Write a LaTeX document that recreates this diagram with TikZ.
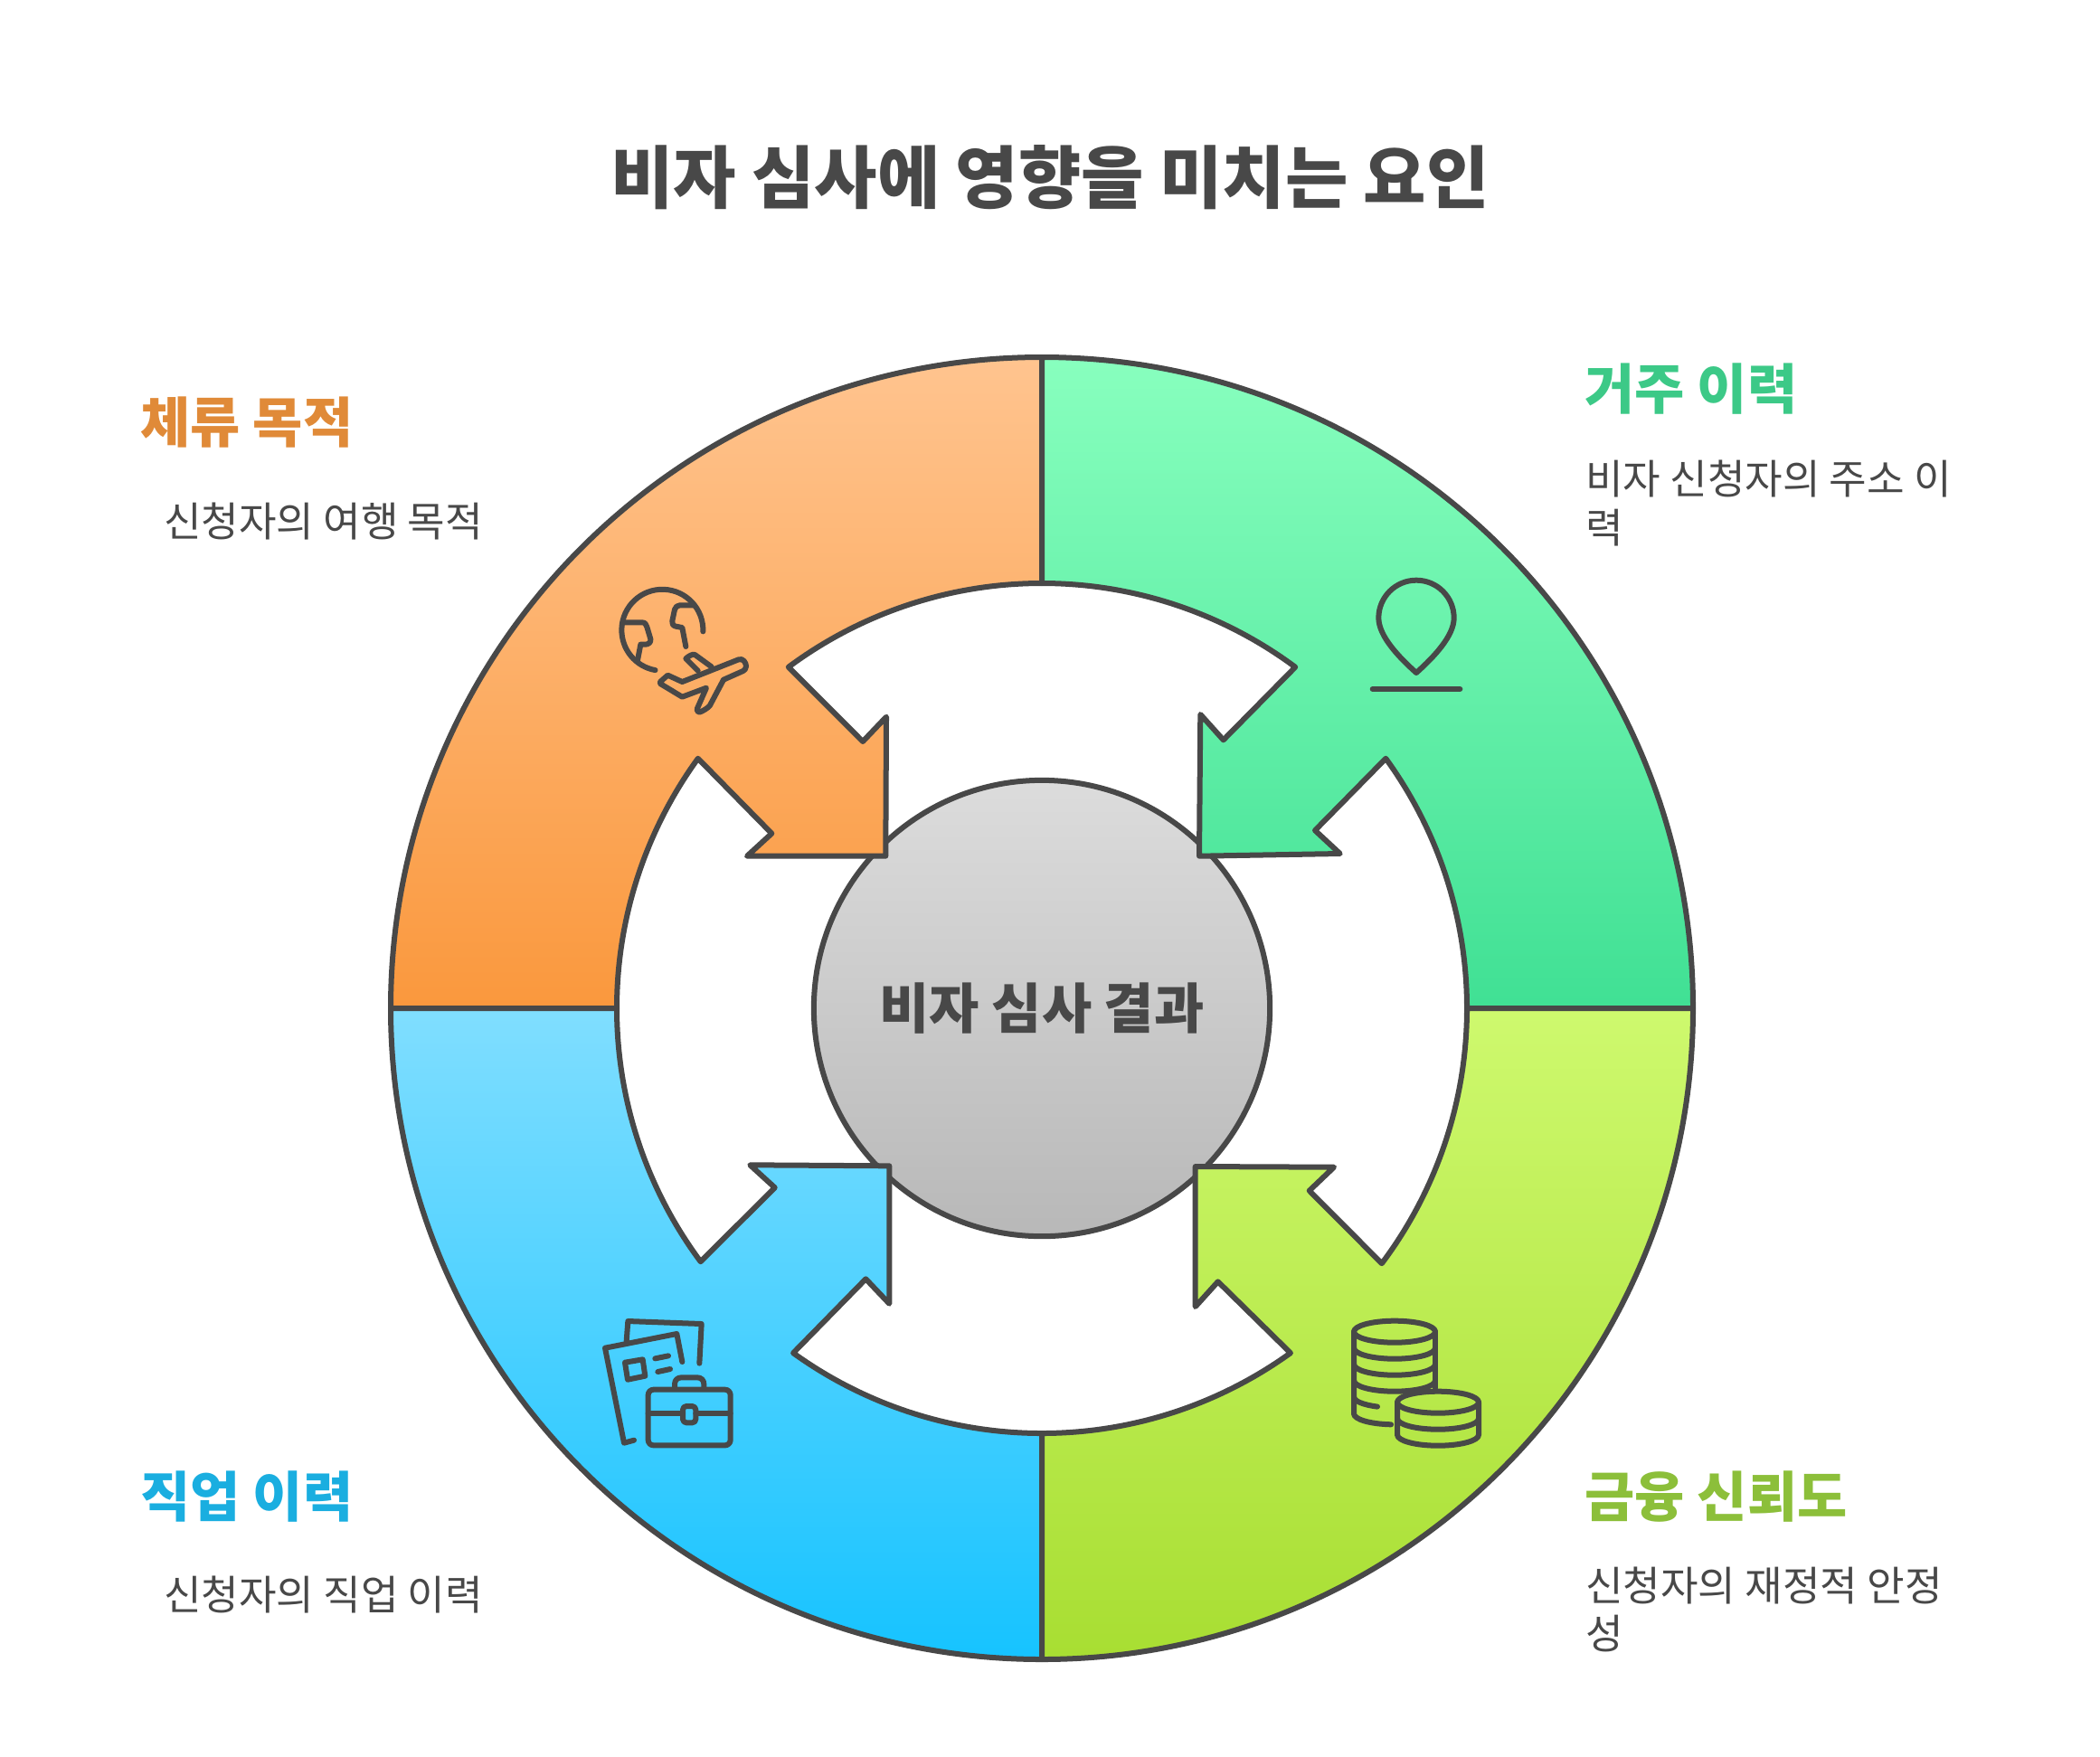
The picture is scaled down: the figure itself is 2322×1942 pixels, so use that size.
\documentclass[tikz,border=0pt]{standalone}
\usepackage{fontspec}
\usetikzlibrary{calc}
\setmainfont{Noto Sans CJK KR}
\definecolor{ink}{HTML}{484848}
\definecolor{coreT}{HTML}{DCDCDC}\definecolor{coreB}{HTML}{B8B8B8}
\definecolor{orT}{HTML}{FFC48F}\definecolor{orB}{HTML}{FA983D}
\definecolor{grT}{HTML}{88FFBE}\definecolor{grB}{HTML}{40E094}
\definecolor{blT}{HTML}{80DEFF}\definecolor{blB}{HTML}{16C3FF}
\definecolor{liT}{HTML}{CEF96E}\definecolor{liB}{HTML}{A8DE32}
\definecolor{orH}{HTML}{E08A38}\definecolor{grH}{HTML}{3CC987}
\definecolor{blH}{HTML}{1AAEE0}\definecolor{liH}{HTML}{8CBF3A}
\tikzset{
  seg/.style={draw=ink,line width=0.06cm,line join=round,line cap=round},
  icon/.style={draw=ink,line width=0.06cm,line join=round,line cap=round},
  titletext/.style={inner sep=0,text=ink,font=\fontsize{21.45pt}{26pt}\selectfont\bfseries},
  headtext/.style={inner sep=0,anchor=west,font=\fontsize{17.07pt}{21pt}\selectfont\bfseries},
  bodytext/.style={inner sep=0,anchor=west,align=left,text=ink,font=\fontsize{12.85pt}{15.3pt}\selectfont},
}
\begin{document}
\begin{tikzpicture}[x=0.01cm,y=-0.01cm]
\useasboundingbox (0,0) rectangle (2322,1942);
\fill[white] (0,0) rectangle (2322,1942);
\coordinate (c) at (1152,1115);
% centre
\node[circle,draw=ink,line width=0.06cm,minimum size=5.04cm,inner sep=0,
  top color=coreT,bottom color=coreB,text=ink,
  font=\fontsize{17.07pt}{21pt}\selectfont\bfseries] (core) at (c) {비자 심사 결과};
% orange
\path[seg,top color=orT,bottom color=orB]
  ($(c)+(233.4:470)$) -- (954,820) -- (980,792.7) -- (979.3,946.7) -- (826,946.7) -- (853.3,921.7)
  -- ($(c)+(216:470)$) arc[start angle=216,end angle=180,radius=470]
  -- ($(c)+(180:720)$) arc[start angle=180,end angle=270,radius=720]
  -- ($(c)+(270:470)$) arc[start angle=270,end angle=233.4,radius=470] -- cycle;
% green
\path[seg,top color=grT,bottom color=grB]
  ($(c)+(306.6:470)$) -- (1352.7,818.3) -- (1327.3,790) -- (1326,946.7) -- (1481.7,944) -- (1454,918.3)
  -- ($(c)+(324:470)$) arc[start angle=324,end angle=360,radius=470]
  -- ($(c)+(0:720)$) arc[start angle=360,end angle=270,radius=720]
  -- ($(c)+(270:470)$) arc[start angle=270,end angle=306.6,radius=470] -- cycle;
% blue
\path[seg,top color=blT,bottom color=blB]
  ($(c)+(143.4:470)$) -- (856.7,1313.3) -- (829.3,1288.3) -- (983.3,1289.3) -- (983.3,1441.7) -- (957.3,1414.3)
  -- ($(c)+(125.8:470)$) arc[start angle=125.8,end angle=90,radius=470]
  -- ($(c)+(90:720)$) arc[start angle=90,end angle=180,radius=720]
  -- ($(c)+(180:470)$) arc[start angle=180,end angle=143.4,radius=470] -- cycle;
% lime
\path[seg,top color=liT,bottom color=liB]
  ($(c)+(54.2:470)$) -- (1346.7,1417.3) -- (1321.7,1445) -- (1321.7,1290) -- (1475,1290.7) -- (1447.7,1316.7)
  -- ($(c)+(36.9:470)$) arc[start angle=36.9,end angle=0,radius=470]
  -- ($(c)+(0:720)$) arc[start angle=0,end angle=90,radius=720]
  -- ($(c)+(90:470)$) arc[start angle=90,end angle=54.2,radius=470] -- cycle;
% globe and plane icon
\begin{scope}[shift={(640,600)},x=0.01cm/3,y=-0.01cm/3]
\draw[icon] (412,295) arc[start angle=2,end angle=-260,radius=135];
\draw[icon] (145,265) -- (210,265) .. controls (220,265) and (224,272) .. (226,280) -- (238,320) .. controls (240,332) and (230,338) .. (220,338) -- (205,338) -- (195,390);
\draw[icon] (355,345) -- (343,282) -- (322,278) .. controls (312,276) and (308,268) .. (310,260) -- (318,222) .. controls (320,214) and (327,208) .. (335,208) -- (380,208);
\draw[icon] (270,462) -- (295,440) -- (343,462) -- (530,388) .. controls (545,382) and (555,400) .. (555,410) .. controls (555,418) and (550,424) .. (545,426) -- (480,455) -- (435,540) .. controls (430,548) and (410,560) .. (400,563) .. controls (393,563) and (390,556) .. (393,550) -- (423,482) -- (343,512) -- (270,468) -- cycle;
\draw[icon] (440,412) -- (385,372) .. controls (378,368) and (362,378) .. (355,385) -- (395,425);
\end{scope}
% pin icon
\begin{scope}[shift={(1300,600)},x=0.01cm/3,y=-0.01cm/3]
\draw[icon] (798,432) .. controls (740,380) and (673,310) .. (673,250) arc[start angle=180,end angle=360,radius=125] .. controls (923,310) and (856,380) .. (798,432) -- cycle;
\draw[icon] (653,486) -- (943,486);
\end{scope}
% documents and briefcase icon
\begin{scope}[shift={(640,1260)},x=0.01cm/3,y=-0.01cm/3]
\draw[icon] (158,670) -- (163,603) -- (407,612) -- (400,743);
\draw[icon] (343,738) -- (325,645) -- (87,692) -- (150,1007) -- (183,998);
\draw[icon] (153,740) -- (212,730) -- (220,785) -- (162,797) -- cycle;
\draw[icon] (253,727) -- (297,718);
\draw[icon] (262,771) -- (303,762);
\draw[icon,rounded corners=0.06cm] (230,830) rectangle (503,1015);
\draw[icon] (318,825) -- (318,812) .. controls (318,798) and (328,790) .. (340,790) -- (393,790) .. controls (405,790) and (415,798) .. (415,812) -- (415,825);
\draw[icon] (230,910) -- (345,910);
\draw[icon] (388,910) -- (503,910);
\draw[icon,rounded corners=0.04cm] (345,885) rectangle (388,940);
\end{scope}
% coins icon
\begin{scope}[shift={(1300,1260)},x=0.01cm/3,y=-0.01cm/3]
\draw[icon] (726,638) ellipse[x radius=135,y radius=36];
\draw[icon] (591,638) -- (591,910) arc[start angle=180,end angle=95,x radius=135,y radius=36];
\draw[icon] (861,638) -- (861,825);
\foreach \yy in {692,746,800}{
  \draw[icon] (591,\yy) arc[start angle=180,end angle=0,x radius=135,y radius=36];
}
\draw[icon] (591,854) arc[start angle=180,end angle=115,x radius=135,y radius=36];
\draw[icon] (870,872) ellipse[x radius=135,y radius=36];
\draw[icon] (735,872) -- (735,980) arc[start angle=180,end angle=0,x radius=135,y radius=36] -- (1005,872);
\draw[icon] (735,926) arc[start angle=180,end angle=0,x radius=135,y radius=36];
\end{scope}
% texts
\node[titletext] (title) at (1161,196) {비자 심사에 영향을 미치는 요인};
\node[headtext,text=orH] (h1) at (155,467) {체류 목적};
\node[bodytext] (b1) at (180.5,576.5) {신청자의 여행 목적};
\node[headtext,text=grH] (h2) at (1752,430) {거주 이력};
\node[bodytext] (b2) at (1752.5,556.5) {비자 신청자의 주소 이\\력};
\node[headtext,text=liH] (h3) at (1752,1655) {금융 신뢰도};
\node[bodytext] (b3) at (1752.5,1780) {신청자의 재정적 안정\\성};
\node[headtext,text=blH] (h4) at (155,1655) {직업 이력};
\node[bodytext] (b4) at (180.5,1763.5) {신청자의 직업 이력};
\end{tikzpicture}
\end{document}
